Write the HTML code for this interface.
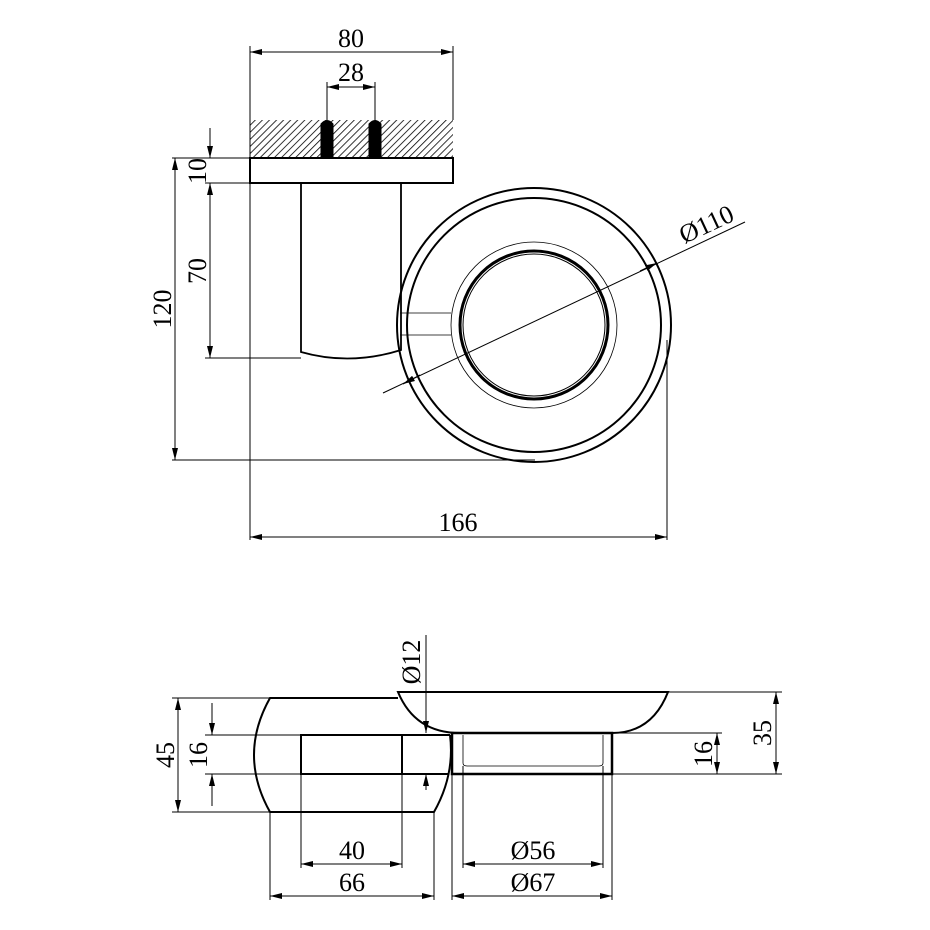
<!DOCTYPE html>
<html><head><meta charset="utf-8"><style>
html,body{margin:0;padding:0;background:#fff}
svg{display:block}
text{font-family:"Liberation Serif",serif;font-size:26px;fill:#000}
</style></head><body>
<svg width="930" height="930" viewBox="0 0 930 930" xmlns="http://www.w3.org/2000/svg">
<defs>
<pattern id="h" width="5" height="5" patternUnits="userSpaceOnUse" patternTransform="rotate(45)">
<line x1="0" y1="0" x2="0" y2="5" stroke="#000" stroke-width="1.6"/>
</pattern>
<marker id="a" viewBox="0 0 12 6" refX="12" refY="3" markerWidth="12" markerHeight="6" orient="auto-start-reverse" markerUnits="userSpaceOnUse">
<path d="M0,0 L12,3 L0,6 z" fill="#000"/>
</marker>
</defs>
<g fill="none" stroke="#000" stroke-width="1">
<!-- top view -->
<line x1="250" y1="46" x2="250" y2="540"/>
<line x1="453" y1="46" x2="453" y2="120"/>
<line x1="250" y1="52" x2="453" y2="52" marker-start="url(#a)" marker-end="url(#a)"/>
<line x1="327" y1="82" x2="327" y2="120"/>
<line x1="375" y1="82" x2="375" y2="120"/>
<line x1="327" y1="87" x2="375" y2="87" marker-start="url(#a)" marker-end="url(#a)"/>
<rect x="250" y="120" width="203" height="37" fill="url(#h)" stroke="none"/>
<path d="M321,157 V124 Q327,117 333,124 V157 Z" fill="#000"/>
<path d="M369,157 V124 Q375,117 381,124 V157 Z" fill="#000"/>
<rect x="250" y="158" width="203" height="25" stroke-width="2"/>
<path d="M301,183 V352 Q350,366 401,350 V183" stroke-width="1.8"/>
<line x1="172" y1="158" x2="250" y2="158"/>
<line x1="205" y1="183" x2="250" y2="183"/>
<line x1="205" y1="358" x2="301" y2="358"/>
<line x1="172" y1="460" x2="535" y2="460"/>
<line x1="210" y1="128" x2="210" y2="158" marker-end="url(#a)"/>
<line x1="210" y1="183" x2="210" y2="358" marker-start="url(#a)" marker-end="url(#a)"/>
<line x1="175" y1="158" x2="175" y2="460" marker-start="url(#a)" marker-end="url(#a)"/>
<line x1="667" y1="340" x2="667" y2="540"/>
<line x1="250" y1="537" x2="667" y2="537" marker-start="url(#a)" marker-end="url(#a)"/>
<circle cx="534" cy="325" r="137" stroke-width="2"/>
<circle cx="534" cy="325" r="127" stroke-width="2"/>
<circle cx="534" cy="325" r="83" stroke-width="0.8"/>
<circle cx="534" cy="325" r="74" stroke-width="3"/>
<circle cx="534" cy="325" r="71" stroke-width="1"/>
<line x1="400" y1="313" x2="451" y2="313" stroke-width="0.8"/>
<line x1="400" y1="335" x2="451" y2="335" stroke-width="0.8"/>
<line x1="383" y1="393" x2="745" y2="222"/>
<line x1="420" y1="375" x2="403" y2="384" marker-end="url(#a)"/>
<line x1="640" y1="271" x2="657" y2="263" marker-end="url(#a)"/>
<!-- bottom view -->
<line x1="172" y1="698" x2="270" y2="698"/>
<line x1="172" y1="812" x2="270" y2="812"/>
<line x1="178" y1="698" x2="178" y2="812" marker-start="url(#a)" marker-end="url(#a)"/>
<line x1="205" y1="735" x2="300" y2="735"/>
<line x1="205" y1="774" x2="300" y2="774"/>
<line x1="212" y1="703" x2="212" y2="735" marker-end="url(#a)"/>
<line x1="212" y1="806" x2="212" y2="774" marker-end="url(#a)"/>
<path d="M398,698 H270 Q238,755 270,812 H434 Q455,775 450,735" stroke-width="2"/>
<rect x="301" y="735" width="101" height="39" stroke-width="2"/>
<path d="M402,735 H450 M402,774 H448" stroke-width="2"/>
<path d="M398,692 H668 Q652,733 612,733 H460 Q415,733 398,692 Z" stroke-width="2"/>
<rect x="452" y="733" width="160" height="41" stroke-width="2.5"/>
<path d="M463,735 V763 Q463,766 467,766 H599 Q603,766 603,763 V735" stroke-width="0.8"/>
<line x1="426" y1="635" x2="426" y2="733" marker-end="url(#a)"/>
<line x1="426" y1="790" x2="426" y2="774" marker-end="url(#a)"/>
<line x1="668" y1="692" x2="782" y2="692"/>
<line x1="612" y1="774" x2="782" y2="774"/>
<line x1="612" y1="733" x2="722" y2="733"/>
<line x1="776" y1="692" x2="776" y2="774" marker-start="url(#a)" marker-end="url(#a)"/>
<line x1="717" y1="733" x2="717" y2="774" marker-start="url(#a)" marker-end="url(#a)"/>
<line x1="270" y1="812" x2="270" y2="900"/>
<line x1="301" y1="774" x2="301" y2="868"/>
<line x1="402" y1="774" x2="402" y2="868"/>
<line x1="434" y1="812" x2="434" y2="900"/>
<line x1="452" y1="774" x2="452" y2="900"/>
<line x1="463" y1="766" x2="463" y2="868"/>
<line x1="603" y1="766" x2="603" y2="868"/>
<line x1="612" y1="774" x2="612" y2="900"/>
<line x1="301" y1="864" x2="402" y2="864" marker-start="url(#a)" marker-end="url(#a)"/>
<line x1="270" y1="896" x2="434" y2="896" marker-start="url(#a)" marker-end="url(#a)"/>
<line x1="463" y1="864" x2="603" y2="864" marker-start="url(#a)" marker-end="url(#a)"/>
<line x1="452" y1="896" x2="612" y2="896" marker-start="url(#a)" marker-end="url(#a)"/>
</g>
<g>
<text x="351" y="47" text-anchor="middle">80</text>
<text x="351" y="81" text-anchor="middle">28</text>
<text x="458" y="531" text-anchor="middle">166</text>
<text transform="translate(206,171) rotate(-90)" text-anchor="middle">10</text>
<text transform="translate(206,271) rotate(-90)" text-anchor="middle">70</text>
<text transform="translate(171,309) rotate(-90)" text-anchor="middle">120</text>
<text transform="translate(710,232) rotate(-25)" text-anchor="middle">Ø110</text>
<text transform="translate(174,755) rotate(-90)" text-anchor="middle">45</text>
<text transform="translate(207,755) rotate(-90)" text-anchor="middle">16</text>
<text transform="translate(420,662) rotate(-90)" text-anchor="middle">Ø12</text>
<text transform="translate(771,733) rotate(-90)" text-anchor="middle">35</text>
<text transform="translate(712,754) rotate(-90)" text-anchor="middle">16</text>
<text x="352" y="859" text-anchor="middle">40</text>
<text x="352" y="891" text-anchor="middle">66</text>
<text x="533" y="859" text-anchor="middle">Ø56</text>
<text x="533" y="891" text-anchor="middle">Ø67</text>
</g>
</svg>
</body></html>
